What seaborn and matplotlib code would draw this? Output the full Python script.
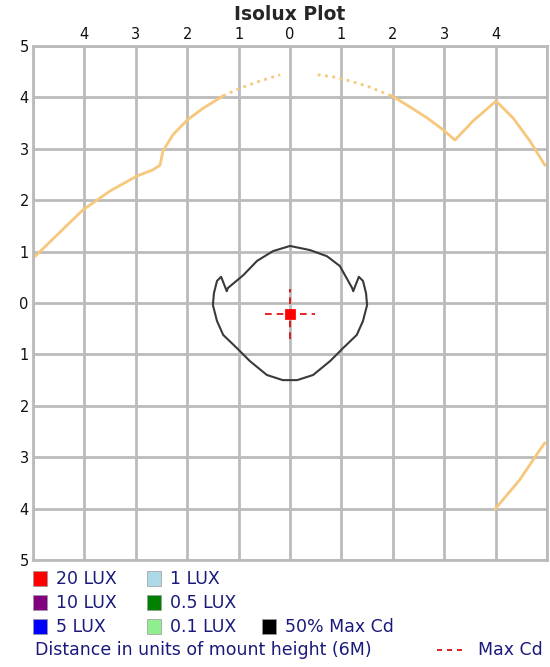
import seaborn as sns
import pandas as pd
import matplotlib.pyplot as plt
from matplotlib.patches import Rectangle
from matplotlib.lines import Line2D

# Outer isolux arc (light orange), split where the trace turns dotted
arc_a_x = [-5.00, -4.03, -3.50, -2.98, -2.67, -2.53, -2.47, -2.28, -2.00, -1.69, -1.30]
arc_a_y = [0.87, 1.81, 2.18, 2.47, 2.59, 2.68, 2.96, 3.27, 3.56, 3.79, 4.03]
arc_b_x = [-1.30, -0.97, -0.58, -0.19]
arc_b_y = [4.03, 4.18, 4.32, 4.44]
arc_c_x = [0.54, 0.84, 1.17, 1.50, 1.75, 1.98]
arc_c_y = [4.44, 4.40, 4.32, 4.22, 4.12, 4.03]
arc_d_x = [1.98, 2.28, 2.67, 2.98, 3.21, 3.56, 4.01, 4.34, 4.67, 4.96]
arc_d_y = [4.03, 3.85, 3.60, 3.37, 3.17, 3.54, 3.93, 3.60, 3.15, 2.68]
arc_e_x = [3.99, 4.47, 4.86, 4.96]
arc_e_y = [-4.01, -3.44, -2.86, -2.72]

# 50% Max Cd contour
cd_x = [0.00, 0.39, 0.72, 0.97, 1.21, 1.23, 1.34, 1.42, 1.48, 1.50, 1.42, 1.30, 1.03, 0.78,
        0.45, 0.14, -0.14, -0.45, -0.78, -1.03, -1.30, -1.42, -1.50, -1.48, -1.42, -1.34,
        -1.23, -1.21, -0.91, -0.64, -0.33, 0.00]
cd_y = [1.11, 1.03, 0.91, 0.72, 0.29, 0.23, 0.51, 0.43, 0.19, -0.04, -0.35, -0.62, -0.88, -1.13,
        -1.40, -1.50, -1.50, -1.40, -1.13, -0.88, -0.62, -0.35, -0.04, 0.19, 0.43, 0.51,
        0.23, 0.29, 0.54, 0.82, 1.01, 1.11]

# Max Cd location
max_x = [0.0]
max_y = [-0.21]
cross_half = 0.49

ticks_x = [-4, -3, -2, -1, 0, 1, 2, 3, 4]
ticks_y = [-5, -4, -3, -2, -1, 0, 1, 2, 3, 4, 5]

legend_names = ["20 LUX", "10 LUX", "5 LUX", "1 LUX", "0.5 LUX", "0.1 LUX", "50% Max Cd"]
legend_colors = ["#ff0000", "#800080", "#0000ff", "#add8e6", "#008000", "#90ee90", "#000000"]

sns.set_theme(style="white")
plt.rcParams['font.family'] = ['DejaVu Sans']

fig = plt.figure(figsize=(5.5, 6.67), dpi=100)
ax = fig.add_axes([0.06, 0.1604, 0.9345, 0.7706])

orange = "#f7c77c"
for xs, ys, ls in [(arc_a_x, arc_a_y, "-"), (arc_b_x, arc_b_y, ":"), (arc_c_x, arc_c_y, ":"),
                   (arc_d_x, arc_d_y, "-"), (arc_e_x, arc_e_y, "-")]:
    sns.lineplot(x=xs, y=ys, sort=False, estimator=None, ax=ax, color=orange, lw=2, linestyle=ls)

sns.lineplot(x=cd_x, y=cd_y, sort=False, estimator=None, ax=ax, color="#3a3a3a", lw=1.5)

# Max Cd cross and marker
mx, my = max_x[0], max_y[0]
ax.plot([mx - cross_half, mx + cross_half], [my, my], color="#e00000", lw=1.2, ls=(0, (4, 3)))
ax.plot([mx, mx], [my - cross_half, my + cross_half], color="#e00000", lw=1.2, ls=(0, (4, 3)))
sns.scatterplot(x=max_x, y=max_y, ax=ax, color="#ff0000", marker="s", s=45, edgecolor="#ff0000", zorder=5)

ax.set_xlim(-5, 5)
ax.set_ylim(-5, 5)
ax.set_xticks(range(-5, 6), minor=True)
ax.set_yticks(range(-5, 6), minor=True)
ax.set_xticks(ticks_x)
ax.set_xticklabels([str(abs(t)) for t in ticks_x])
ax.set_yticks(ticks_y)
ax.set_yticklabels([str(abs(t)) for t in ticks_y])
ax.xaxis.tick_top()
ax.tick_params(axis="both", which="both", length=0, labelsize=10.5, colors="#111111", pad=3)
ax.grid(True, which="both", color="#bbbbbb", lw=2)
for s in ax.spines.values():
    s.set_color("#bbbbbb")
    s.set_linewidth(2)

fig.text(0.527, 0.979, "Isolux Plot", ha="center", va="center", fontsize=13.5, fontweight="bold")

# Legend, drawn by hand to match the three-column layout
navy = "#1a1a7a"
slots = [(0.06, 0.132), (0.06, 0.096), (0.06, 0.060),
         (0.267, 0.132), (0.267, 0.096), (0.267, 0.060), (0.476, 0.060)]
for (lx, ly), name, col in zip(slots, legend_names, legend_colors):
    fig.patches.append(Rectangle((lx, ly - 0.0112), 0.0255, 0.0225, transform=fig.transFigure,
                                 facecolor=col, edgecolor="#999999", lw=0.5))
    fig.text(lx + 0.042, ly, name, ha="left", va="center", fontsize=12.5, color=navy)

fig.text(0.064, 0.0255, "Distance in units of mount height (6M)", ha="left", va="center",
         fontsize=12.5, color=navy)
fig.lines.append(Line2D([0.795, 0.847], [0.0255, 0.0255], transform=fig.transFigure,
                        color="#cc0000", lw=1.2, ls=(0, (3, 3))))
fig.text(0.869, 0.0255, "Max Cd", ha="left", va="center", fontsize=12.5, color=navy)

fig.savefig("out.png", dpi=100)
